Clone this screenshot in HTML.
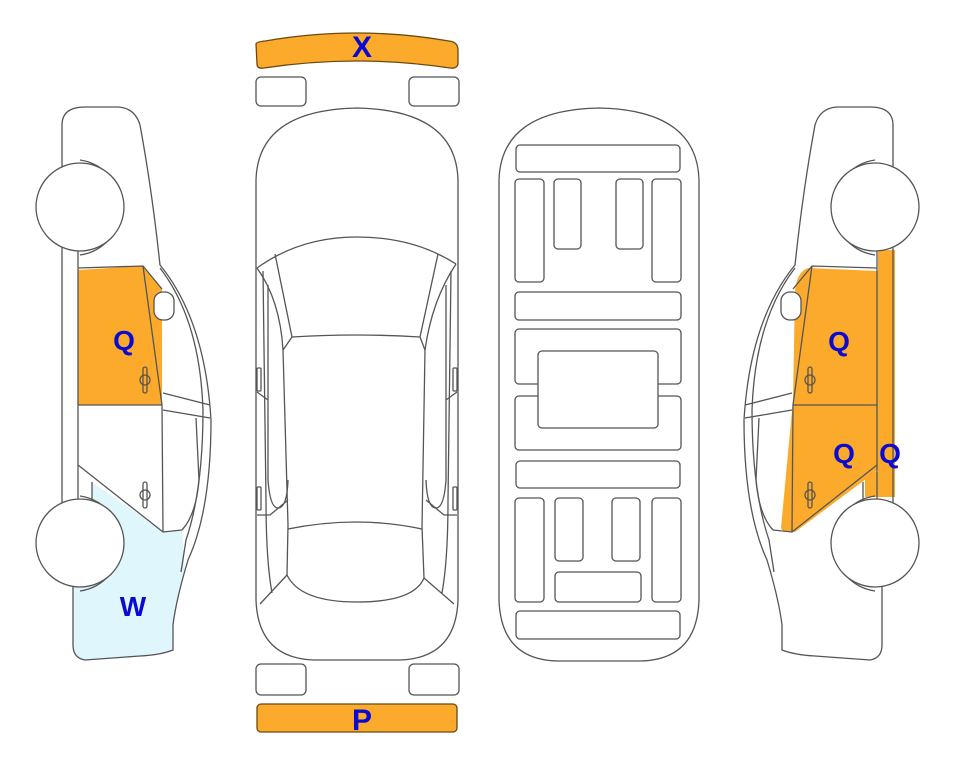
<!DOCTYPE html>
<html><head><meta charset="utf-8"><style>
html,body{margin:0;padding:0;background:#fff;}
svg{display:block;}
text{font-family:"Liberation Sans",sans-serif;font-weight:bold;fill:#0a0ad0;text-anchor:middle;}
</style></head><body>
<svg width="963" height="768" viewBox="0 0 963 768" xmlns="http://www.w3.org/2000/svg">
<defs>
<g id="sideLines" fill="none" stroke="#555" stroke-width="1.3">
  <path d="M62,125 Q62,107 85,107 L118,107 Q135,108 140,125 Q152,190 160,265 Q205,320 211,420 Q211,510 188,560 Q176,600 173,625 L173,650 Q160,655 140,656 L85,660 Q73,658 73,645 L73,585 L62,540 L62,125 Z"/>
  <line x1="78" y1="250" x2="78" y2="500"/>
  <path d="M160,268 Q200,320 203,410 Q203,490 186,540 L181,572"/>
  <path d="M143,266 L162,405 L163,532"/>
  <path d="M78,268 L143,266 L162,289"/>
  <path d="M163,393 L210,405 M163,410 L210,418"/>
  <path d="M78,405 L162,405"/>
  <path d="M78,465 L163,532 L182,530"/>
  <path d="M92,482 L92,500"/>
  <path d="M196,418 L199,480 Q196,515 182,530"/>
  <rect x="154" y="292" width="20" height="28" rx="9" fill="#fff"/>
  <rect x="143" y="367" width="4" height="26" rx="2"/>
  <circle cx="145" cy="380" r="5"/>
  <rect x="143" y="482" width="4" height="26" rx="2"/>
  <circle cx="145" cy="495" r="5"/>
  <path d="M80,160 A48,48 0 0 1 80,255"/>
  <path d="M80,496 A48,48 0 0 1 80,591"/>
  <circle cx="80" cy="207" r="44" fill="#fff"/>
  <circle cx="80" cy="543" r="44" fill="#fff"/>
</g>
</defs>

<!-- left car fills -->
<path d="M78,270 L143,266 L162,289 L162,405 L78,405 Z" fill="#fbaa2c"/>
<path d="M92,482 L163,532 L182,530 L185,571 L174,620 L173,650 L140,656 L85,660 Q73,658 73,645 L73,585 L92,585 Z" fill="#dff6fc"/>
<use href="#sideLines"/>

<!-- right car fills -->
<path d="M808,268 L878,271 L878,470 L795,532 Q783,533 781,528 L793,400 L795,290 Q797,272 808,268 Z" fill="#fbaa2c"/>
<path d="M878,250 L895,250 L895,497 L865,497 L865,472 L878,472 Z" fill="#fbaa2c"/>
<g transform="matrix(-1,0,0,1,955,0)"><use href="#sideLines"/></g>

<!-- center top view -->
<g fill="none" stroke="#555" stroke-width="1.3">
  <path d="M256,44 Q256,42 265,41 Q357,25 449,41 Q458,42 458,50 L458,64 Q457,69 450,68 Q357,54 264,68 Q257,69 257,64 Z" fill="#fbaa2c" stroke="#6a4a10"/>
  <rect x="256" y="77" width="50" height="29" rx="5"/>
  <rect x="409" y="77" width="50" height="29" rx="5"/>
  <rect x="256" y="664" width="50" height="31" rx="5"/>
  <rect x="409" y="664" width="50" height="31" rx="5"/>
  <rect x="257" y="704" width="200" height="28" rx="4" fill="#fbaa2c" stroke="#6a4a10"/>
  <path d="M256,180 Q258,110 357,108 Q456,110 458,180 L458,600 Q456,658 400,660 L314,660 Q258,658 256,600 Z"/>
  <path d="M257,268 Q300,237 357,237 Q414,237 456,264"/>
  <path d="M275,254 L292,337 M438,254 L420,337"/>
  <path d="M292,337 Q357,333 420,337"/>
  <path d="M257,268 Q280,300 283,350 L288,525 M456,264 Q432,300 425,350 L422,527"/>
  <path d="M292,337 L283,350 M420,337 L425,350"/>
  <path d="M288,529 Q357,515 422,529"/>
  <path d="M287,575 Q300,602 357,602 Q414,602 424,578"/>
  <path d="M288,525 L287,575 M422,527 L424,578"/>
  <path d="M263,271 L266,500 Q266,560 272,593 M451,271 L448,500 Q448,560 442,593"/>
  <path d="M268,285 L268,480 Q270,508 278,508 Q287,508 288,480 M446,285 L446,480 Q444,508 436,508 Q427,508 426,480"/>
  <path d="M260,604 L287,575 M454,604 L424,578"/>
  <path d="M257,515 L270,515 L288,500 M457,515 L444,515 L426,500"/>
  <path d="M257,392 L268,400 M457,392 L446,400"/>
  <rect x="257" y="368" width="4" height="23" rx="1"/>
  <rect x="453" y="368" width="4" height="23" rx="1"/>
  <rect x="257" y="487" width="4" height="23" rx="1"/>
  <rect x="453" y="487" width="4" height="23" rx="1"/>
</g>

<!-- underside view -->
<g fill="none" stroke="#555" stroke-width="1.3">
  <path d="M499,180 Q501,110 599,108 Q697,110 699,180 L699,600 Q697,660 640,661 L558,661 Q501,660 499,600 Z"/>
  <rect x="516" y="145" width="164" height="27" rx="4"/>
  <rect x="515" y="179" width="29" height="103" rx="4"/>
  <rect x="554" y="179" width="27" height="70" rx="4"/>
  <rect x="616" y="179" width="27" height="70" rx="4"/>
  <rect x="652" y="179" width="29" height="103" rx="4"/>
  <rect x="515" y="292" width="166" height="28" rx="4"/>
  <rect x="515" y="329" width="166" height="55" rx="4"/>
  <rect x="515" y="396" width="166" height="54" rx="4"/>
  <rect x="538" y="351" width="120" height="77" rx="4" fill="#fff"/>
  <rect x="516" y="461" width="164" height="27" rx="4"/>
  <rect x="515" y="498" width="29" height="104" rx="4"/>
  <rect x="555" y="498" width="28" height="63" rx="4"/>
  <rect x="612" y="498" width="28" height="63" rx="4"/>
  <rect x="652" y="498" width="29" height="104" rx="4"/>
  <rect x="555" y="572" width="86" height="30" rx="4"/>
  <rect x="516" y="611" width="164" height="28" rx="4"/>
</g>

<!-- labels -->
<text x="124" y="350" font-size="28">Q</text>
<text x="133" y="616" font-size="28">W</text>
<text x="362" y="57" font-size="30">X</text>
<text x="362" y="730" font-size="30">P</text>
<text x="839" y="351" font-size="28">Q</text>
<text x="844" y="463" font-size="28">Q</text>
<text x="890" y="463" font-size="28">Q</text>
</svg>
</body></html>
